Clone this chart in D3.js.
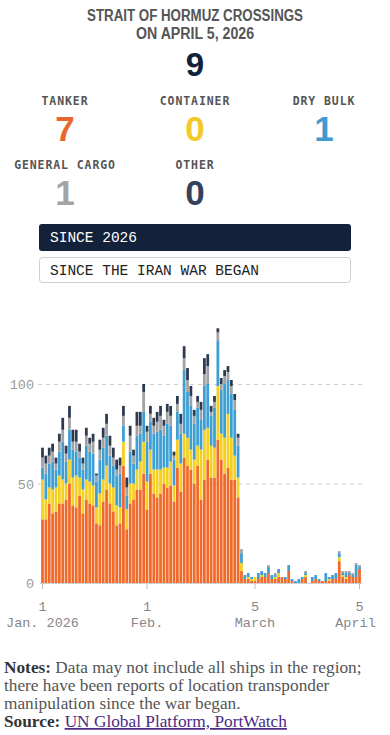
<!DOCTYPE html>
<html>
<head>
<meta charset="utf-8">
<script src="https://cdn.jsdelivr.net/npm/d3@7"></script>
<style>
body { margin: 0; background: #fff; }
svg { display: block; }
</style>
</head>
<body>
<svg id="chart" width="390" height="735"></svg>
<script>
// ship types, bottom to top of each stack
var TYPES = ['tanker', 'container', 'drybulk', 'cargo', 'other']
var TYPE_LABELS = ['TANKER', 'CONTAINER', 'DRY BULK', 'GENERAL CARGO', 'OTHER']

// daily crossings, Jan 1 to April 5 2026
var tanker = [32,32,40,35,36,40,40,42,50,39, 38,44,35,42,40,39,30,29,41,47,
	40,36,29,30,59,27,40,42,47,47, 55,37,55,45,43,45,50,48,49,41,
	58,46,63,59,57,50,59,42,52,62, 53,53,72,62,55,58,52,52,43,6,
	2,2,1,1,2,3,3,5,2,2, 3,3,2,6,1,0,0,2,3,0,
	1,2,1,1,1,1,2,2,11,3, 2,4,3,3,7]
var container = [20,10,8,12,12,14,12,8,12,14, 16,9,12,10,11,10,8,16,11,12,
	10,12,10,8,12,10,10,8,10,14, 16,14,12,12,14,12,8,10,12,8,
	14,14,12,14,10,12,10,25,25,16, 16,15,27,13,18,27,21,12,10,4,
	0,1,1,2,0,1,0,0,0,1, 2,0,0,0,0,0,0,0,1,0,
	0,0,0,0,0,1,0,0,2,1, 1,0,0,0,0]
var drybulk = [6,13,12,14,9,12,19,11,15,14, 12,10,10,17,15,16,13,17,16,15,
	14,11,15,17,8,7,16,10,17,14, 15,20,14,18,19,20,16,22,18,13,
	14,15,32,23,22,18,19,15,22,22, 15,20,23,22,27,17,22,23,16,5,
	2,2,1,0,3,2,2,3,2,1, 2,0,1,3,1,1,2,1,1,0,
	2,2,1,0,4,1,2,3,2,1, 2,1,1,6,1]
var cargo = [5,5,4,5,3,5,6,4,6,4, 5,3,3,5,4,6,3,5,5,6,
	5,4,3,4,5,4,8,4,5,4, 10,5,4,4,5,7,5,6,5,2,
	4,5,6,6,5,4,3,5,6,9, 2,3,4,3,4,4,4,5,4,2,
	0,0,0,0,0,0,0,1,0,1, 0,0,0,0,0,0,0,0,1,0,
	0,0,0,0,0,0,0,0,1,1, 1,1,1,1,1]
var other = [5,4,4,4,3,4,6,4,6,6, 6,4,3,4,3,4,1,5,5,5,
	5,5,5,4,5,5,5,3,7,7, 4,3,4,4,5,5,3,4,5,2,
	4,5,6,6,5,3,3,4,8,6, 3,3,2,3,3,3,3,3,2,0,
	0,0,0,0,0,0,0,0,0,0, 0,0,0,0,0,0,0,0,0,0,
	0,0,0,0,0,0,0,0,0,0, 0,0,0,0,0]

var Y_TICKS = [0, 50, 100]
var X_TICKS = ['2026-01-01', '2026-02-01', '2026-03-05', '2026-04-05']
var X_TICK_DAY = ['1', '1', '5', '5']
var X_TICK_MONTH = ['Jan. 2026', 'Feb.', 'March', 'April']

var BAR_COLORS = ['#f06b2b', '#f5cf22', '#3d9fd4', '#a1a2a4', '#2d3a50'],
	NUM_COLORS = ['#e8672c', '#f1c92a', '#3f9bcf', '#a3a3a3', '#35415b'],
	NAVY = '#14213a',
	MONO = "'Liberation Mono', 'DejaVu Sans Mono', monospace",
	SANS = "'Liberation Sans', Arial, sans-serif"

var fmtDay = d3.timeFormat('%Y-%m-%d')
var days = d3.timeDays(new Date(2026, 0, 1), new Date(2026, 3, 6)).map(fmtDay)

var series = [tanker, container, drybulk, cargo, other]
var rows = days.map(function(d, i) {
	var r = { date: d }
	TYPES.forEach(function(t, k) { r[t] = series[k][i] })
	return r
})

var svg = d3.select('#chart')

// ---- header ----
svg.append('text')
	.attr('x', 195).attr('y', 21)
	.attr('text-anchor', 'middle')
	.attr('font-family', SANS)
	.attr('font-weight', 'bold').attr('font-size', 16)
	.attr('textLength', 216).attr('lengthAdjust', 'spacingAndGlyphs')
	.attr('fill', '#555')
	.text('STRAIT OF HORMUZ CROSSINGS')
svg.append('text')
	.attr('x', 195).attr('y', 39)
	.attr('text-anchor', 'middle')
	.attr('font-family', SANS)
	.attr('font-weight', 'bold').attr('font-size', 16)
	.attr('textLength', 118).attr('lengthAdjust', 'spacingAndGlyphs')
	.attr('fill', '#555')
	.text('ON APRIL 5, 2026')

var last = rows[rows.length - 1]
var total = d3.sum(TYPES, function(t) { return last[t] })

svg.append('text')
	.attr('x', 195).attr('y', 76)
	.attr('text-anchor', 'middle')
	.attr('font-family', SANS).attr('font-weight', 'bold').attr('font-size', 33)
	.attr('fill', NAVY)
	.text(total)

var colX = [65, 195, 324]
var cells = svg.selectAll('g.count')
	.data(TYPES)
	.enter().append('g')
		.attr('class', 'count')
		.attr('transform', function(d, i) {
			return 'translate(' + colX[i % 3] + ',' + (Math.floor(i / 3) * 64) + ')'
		})

cells.append('text')
	.attr('y', 105)
	.attr('text-anchor', 'middle')
	.attr('font-family', "'DejaVu Sans Mono', monospace")
	.attr('font-weight', 'bold').attr('font-size', 11.5)
	.attr('letter-spacing', 0.9)
	.attr('fill', '#555')
	.text(function(d, i) { return TYPE_LABELS[i] })

cells.append('text')
	.attr('y', 141)
	.attr('text-anchor', 'middle')
	.attr('font-family', SANS).attr('font-weight', 'bold').attr('font-size', 35)
	.attr('fill', function(d, i) { return NUM_COLORS[i] })
	.text(function(d) { return last[d] })

// ---- toggle buttons ----
svg.append('rect')
	.attr('x', 39).attr('y', 224).attr('width', 312).attr('height', 27)
	.attr('rx', 3).attr('fill', NAVY)
svg.append('text')
	.attr('x', 50).attr('y', 242)
	.attr('font-family', MONO).attr('font-size', 14.5)
	.attr('fill', '#fff')
	.text('SINCE 2026')

svg.append('rect')
	.attr('x', 39.5).attr('y', 257.5).attr('width', 311).attr('height', 25)
	.attr('rx', 3).attr('fill', '#fff').attr('stroke', '#cfcfcf')
svg.append('text')
	.attr('x', 50).attr('y', 275)
	.attr('font-family', MONO).attr('font-size', 14.5)
	.attr('fill', '#222')
	.text('SINCE THE IRAN WAR BEGAN')

// ---- chart ----
var x = d3.scaleBand()
	.domain(days)
	.range([40.8, 361.2])
	.paddingInner(0.18)
	.paddingOuter(0.09)

var y = d3.scaleLinear()
	.domain([0, 100])
	.range([583, 384])

var grid = svg.append('g').attr('class', 'grid')
grid.selectAll('line')
	.data(Y_TICKS.filter(function(d) { return d > 0 }))
	.enter().append('line')
		.attr('x1', 38).attr('x2', 362)
		.attr('y1', function(d) { return y(d) + 0.5 })
		.attr('y2', function(d) { return y(d) + 0.5 })
		.attr('stroke', '#cfcfcf')
		.attr('stroke-dasharray', '4,4')

svg.append('g')
	.selectAll('text')
	.data(Y_TICKS)
	.enter().append('text')
		.attr('x', 34)
		.attr('y', function(d) { return y(d) + 5 })
		.attr('text-anchor', 'end')
		.attr('font-family', MONO).attr('font-size', 13.5)
		.attr('fill', '#999')
		.text(function(d) { return d })

var stack = d3.stack().keys(TYPES)(rows)

svg.append('g').attr('class', 'bars')
	.selectAll('g')
	.data(stack)
	.enter().append('g')
		.attr('fill', function(d, i) { return BAR_COLORS[i] })
	.selectAll('rect')
	.data(function(d) { return d })
	.enter().append('rect')
		.attr('x', function(d) { return x(d.data.date) })
		.attr('width', x.bandwidth())
		.attr('y', function(d) { return y(d[1]) })
		.attr('height', function(d) { return y(d[0]) - y(d[1]) })

// baseline and date ticks
svg.append('line')
	.attr('x1', 40).attr('x2', 362)
	.attr('y1', 583.5).attr('y2', 583.5)
	.attr('stroke', '#d0d0d0')

var xt = svg.append('g').attr('class', 'x-ticks')
	.selectAll('g')
	.data(X_TICKS)
	.enter().append('g')
		.attr('transform', function(d) {
			return 'translate(' + (x(d) + x.bandwidth() / 2) + ',0)'
		})

xt.append('line')
	.attr('y1', 584).attr('y2', 589)
	.attr('stroke', '#bbb')

xt.append('text')
	.attr('y', 611)
	.attr('text-anchor', 'middle')
	.attr('font-family', MONO).attr('font-size', 13.5)
	.attr('fill', '#888')
	.text(function(d, i) { return X_TICK_DAY[i] })

xt.append('text')
	.attr('y', 627)
	.attr('dx', function(d, i) { return i == X_TICKS.length - 1 ? -4 : 0 })
	.attr('text-anchor', 'middle')
	.attr('font-family', MONO).attr('font-size', 13.5)
	.attr('fill', '#888')
	.text(function(d, i) { return X_TICK_MONTH[i] })

// ---- notes ----
var SERIF = "'Liberation Serif', 'Times New Roman', serif"
var notes = svg.append('text')
	.attr('font-family', SERIF).attr('font-size', 17.3)
	.attr('fill', '#555')

var n1 = notes.append('tspan').attr('x', 4).attr('y', 673)
n1.append('tspan').attr('font-weight', 'bold').attr('fill', '#333').text('Notes:')
n1.append('tspan').text(' Data may not include all ships in the region;')
notes.append('tspan').attr('x', 4).attr('y', 691)
	.text('there have been reports of location transponder')
notes.append('tspan').attr('x', 4).attr('y', 709)
	.text('manipulation since the war began.')

var src = svg.append('text')
	.attr('x', 4).attr('y', 727)
	.attr('font-family', SERIF).attr('font-size', 17.3)
src.append('tspan').attr('font-weight', 'bold').attr('fill', '#333').text('Source: ')
src.append('tspan')
	.attr('fill', '#4e2a84')
	.style('text-decoration', 'underline')
	.text('UN Global Platform, PortWatch')
</script>
</body>
</html>
